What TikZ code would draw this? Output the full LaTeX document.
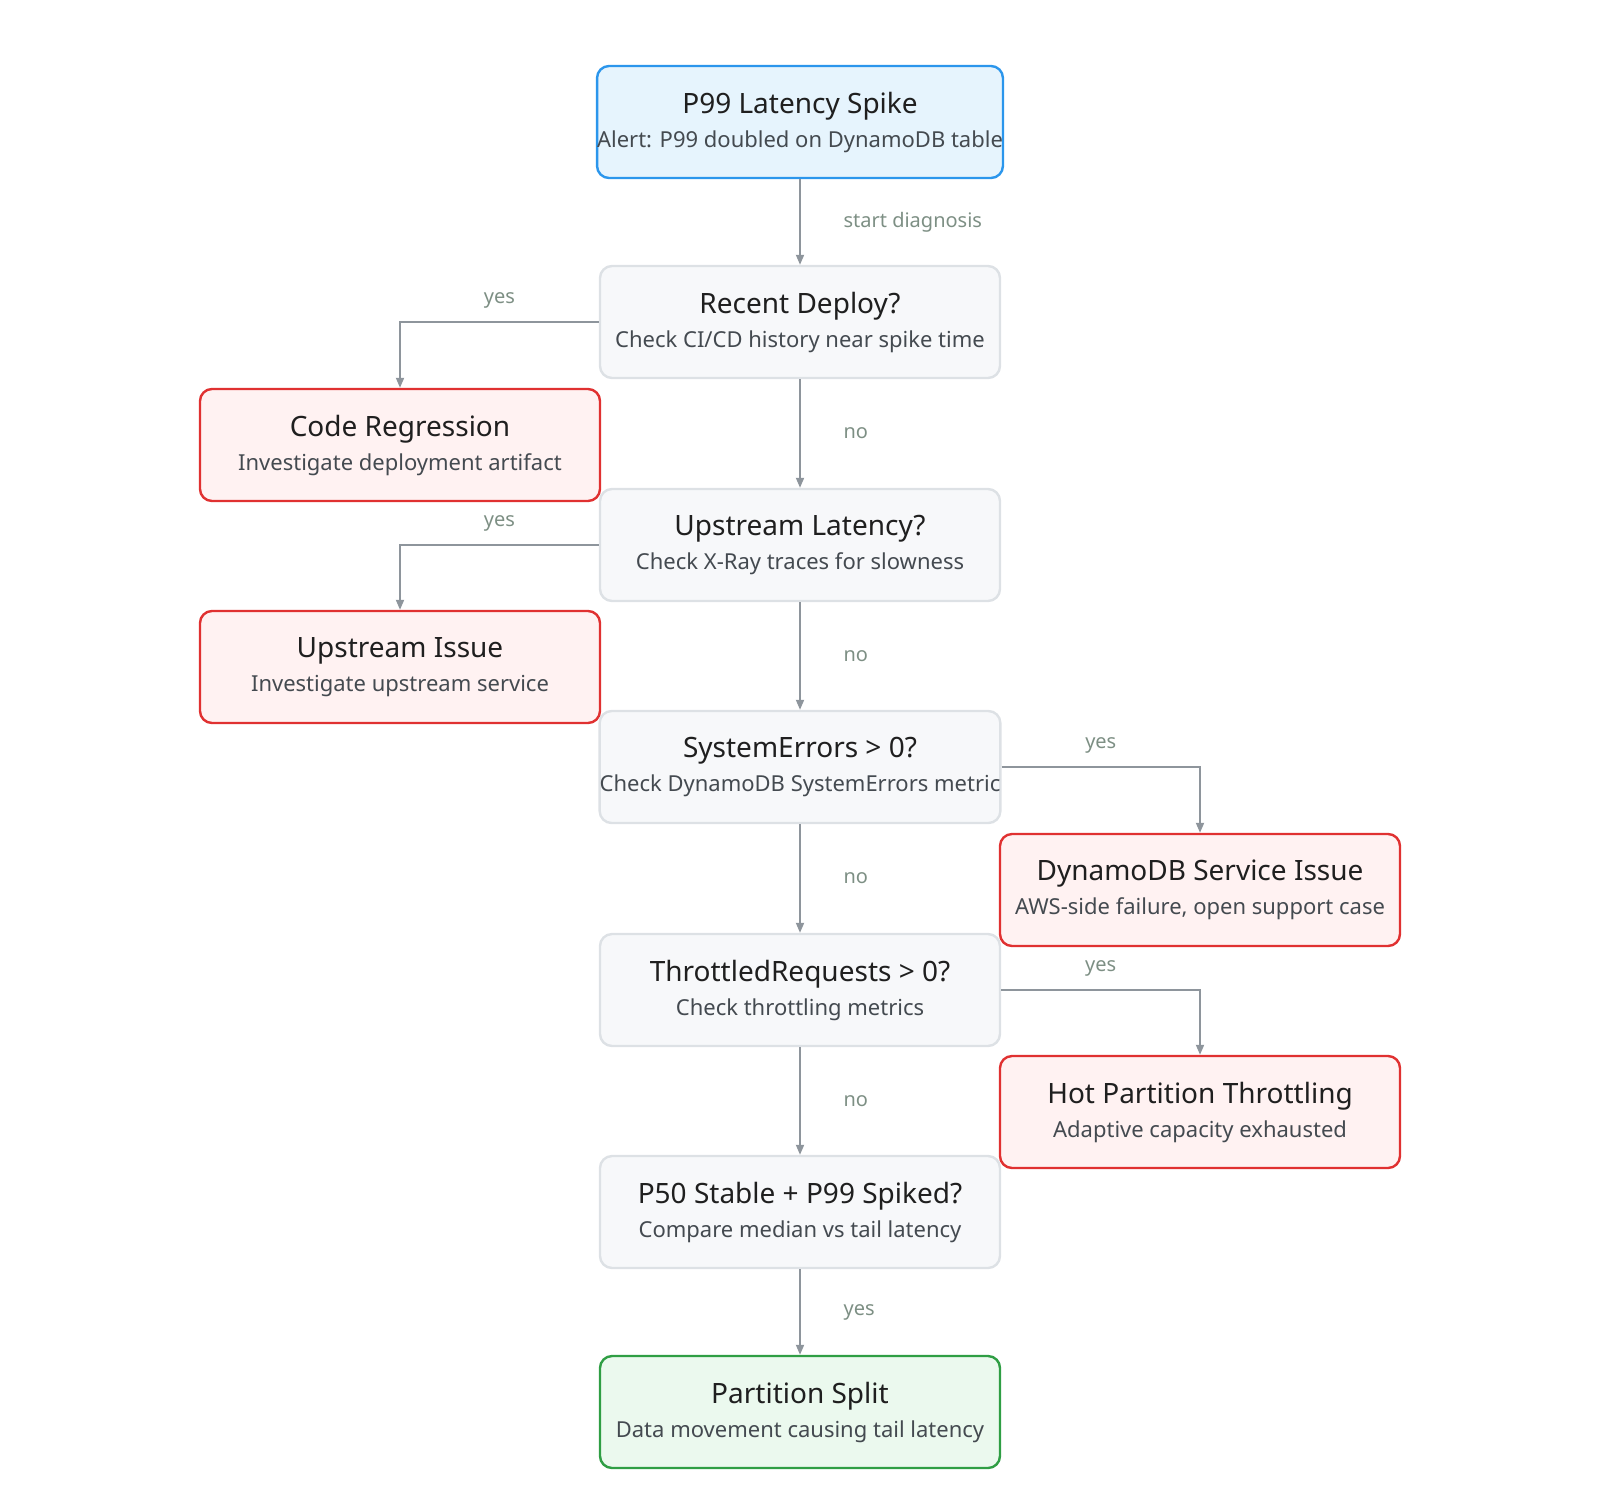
\documentclass[tikz,border=0pt]{standalone}
\usepackage{fontspec}
\setmainfont{Noto Sans}
\usetikzlibrary{arrows.meta}
\definecolor{ebor}{HTML}{8E959C}
\definecolor{lab}{HTML}{7D8F84}
\definecolor{ttl}{HTML}{1F1F1F}
\definecolor{sub}{HTML}{444A50}
\tikzset{
 box/.style={draw, line width=1.2pt, rounded corners=6pt, minimum width=200pt, minimum height=56pt, align=center, inner sep=0pt},
 start/.style={box, draw=HTML2196F3, fill=HTMLE6F4FD},
 dec/.style={box, draw=HTMLDDE1E5, fill=HTMLF7F8FA},
 bad/.style={box, draw=HTMLE03131, fill=HTMLFFF2F2},
 good/.style={box, draw=HTML2F9E44, fill=HTMLEBF9EE},
 edge/.style={draw=ebor, line width=0.9pt, -{Triangle[length=5pt,width=4pt]}},
 el/.style={text=lab, font=\fontsize{10}{12}\selectfont},
}
\colorlet{HTML2196F3}{blue}
\definecolor{HTML2196F3}{HTML}{2B96EC}
\definecolor{HTMLE6F4FD}{HTML}{E6F4FD}
\definecolor{HTMLDDE1E5}{HTML}{DDE1E5}
\definecolor{HTMLF7F8FA}{HTML}{F7F8FA}
\definecolor{HTMLE03131}{HTML}{E03131}
\definecolor{HTMLFFF2F2}{HTML}{FFF2F2}
\definecolor{HTML2F9E44}{HTML}{2F9E44}
\definecolor{HTMLEBF9EE}{HTML}{EBF9EE}
\newcommand{\bx}[2]{{\fontsize{14}{17}\selectfont\bfseries\color{ttl}#1}\\[5pt]{\fontsize{11}{13}\selectfont\color{sub}#2}}
\begin{document}
\begin{tikzpicture}[x=0.5pt,y=-0.5pt]
\useasboundingbox (0,0) rectangle (1600,1511);
\node[start] (a) at (800,122) {\bx{P99 Latency Spike}{Alert: P99 doubled on DynamoDB table}};
\node[dec] (b) at (800,322) {\bx{Recent Deploy?}{Check CI/CD history near spike time}};
\node[bad] (c) at (400,445) {\bx{Code Regression}{Investigate deployment artifact}};
\node[dec] (d) at (800,545) {\bx{Upstream Latency?}{Check X-Ray traces for slowness}};
\node[bad] (e) at (400,667) {\bx{Upstream Issue}{Investigate upstream service}};
\node[dec] (f) at (800,767) {\bx{SystemErrors > 0?}{Check DynamoDB SystemErrors metric}};
\node[bad] (g) at (1200,890) {\bx{DynamoDB Service Issue}{AWS-side failure, open support case}};
\node[dec] (h) at (800,990) {\bx{ThrottledRequests > 0?}{Check throttling metrics}};
\node[bad] (i) at (1200,1112) {\bx{Hot Partition Throttling}{Adaptive capacity exhausted}};
\node[dec] (j) at (800,1212) {\bx{P50 Stable + P99 Spiked?}{Compare median vs tail latency}};
\node[good] (k) at (800,1412) {\bx{Partition Split}{Data movement causing tail latency}};
\draw[edge] (a) -- node[el, right=18pt]{start diagnosis} (b);
\draw[edge] (b) -- node[el, right=18pt]{no} (d);
\draw[edge] (d) -- node[el, right=18pt]{no} (f);
\draw[edge] (f) -- node[el, right=18pt]{no} (h);
\draw[edge] (h) -- node[el, right=18pt]{no} (j);
\draw[edge] (j) -- node[el, right=18pt]{yes} (k);
\draw[edge] (b.west) -| node[el, pos=0.25, above=3pt]{yes} (c.north);
\draw[edge] (d.west) -| node[el, pos=0.25, above=3pt]{yes} (e.north);
\draw[edge] (f.east) -| node[el, pos=0.25, above=3pt]{yes} (g.north);
\draw[edge] (h.east) -| node[el, pos=0.25, above=3pt]{yes} (i.north);
\end{tikzpicture}
\end{document}
